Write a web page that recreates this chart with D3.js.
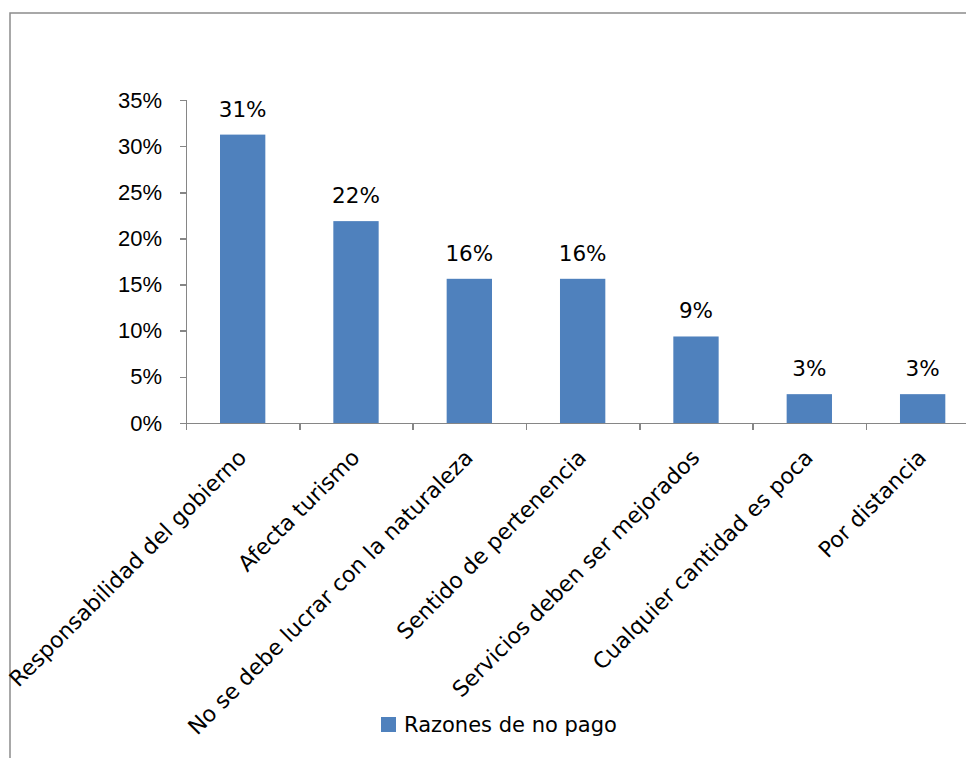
<!DOCTYPE html>
<html>
<head>
<meta charset="utf-8">
<script src="https://cdn.jsdelivr.net/npm/d3@7"></script>
<style>
	body { margin: 0; background: #fff; }
	svg { display: block; font-family: "DejaVu Sans", sans-serif; }
	.axis path, .axis line { stroke: #868686; stroke-width: 1.5px; shape-rendering: crispEdges; }
	.axis text { fill: #000; font-size: 22px; }
</style>
</head>
<body>
<div id="chart"></div>
<script>
// data
const categories = [
	"Responsabilidad del gobierno",
	"Afecta turismo",
	"No se debe lucrar con la naturaleza",
	"Sentido de pertenencia",
	"Servicios deben ser mejorados",
	"Cualquier cantidad es poca",
	"Por distancia"
];
const values = [0.3125, 0.21875, 0.15625, 0.15625, 0.09375, 0.03125, 0.03125];
const yTicks = [0, 0.05, 0.10, 0.15, 0.20, 0.25, 0.30, 0.35];
const seriesName = "Razones de no pago";

const width = 966, height = 758;
const color = "#4f81bd";
const plotLeft = 186, plotTop = 100, plotBottom = 423, step = 113.33;
const pct = d3.format(".0%");

var svg = d3.select("#chart").append("svg")
	.attr("width", width)
	.attr("height", height);

// chart area border (runs off right and bottom edge)
svg.append("rect")
	.attr("x", 10).attr("y", 13)
	.attr("width", 1000).attr("height", 1000)
	.attr("fill", "none")
	.attr("stroke", "#8c8c8c")
	.attr("stroke-width", 1.5);

var x = d3.scaleBand()
	.domain(categories)
	.range([plotLeft, plotLeft + step * categories.length])
	.paddingInner(0.6)
	.paddingOuter(0.3);

var xEdge = d3.scaleLinear()
	.domain([0, categories.length])
	.range(x.range());

var y = d3.scaleLinear()
	.domain([0, 0.35])
	.range([plotBottom, plotTop]);

// y axis
var yAxis = d3.axisLeft(y)
	.tickValues(yTicks)
	.tickFormat(pct)
	.tickSize(6)
	.tickSizeOuter(6)
	.tickPadding(18);

svg.append("g")
	.attr("class", "y axis")
	.attr("transform", "translate(" + plotLeft + ",0)")
	.call(yAxis);

// bars
svg.append("g").selectAll("rect")
	.data(values)
	.enter().append("rect")
	.attr("x", function (d, i) { return x(categories[i]); })
	.attr("y", function (d) { return y(d); })
	.attr("width", x.bandwidth())
	.attr("height", function (d) { return plotBottom - y(d); })
	.attr("fill", color);

// value labels
svg.append("g").selectAll("text")
	.data(values)
	.enter().append("text")
	.attr("x", function (d, i) { return x(categories[i]) + x.bandwidth() / 2; })
	.attr("y", function (d) { return y(d) - 18; })
	.attr("text-anchor", "middle")
	.attr("font-size", 21.5)
	.attr("fill", "#000")
	.text(function (d) { return pct(d); });

// x axis: ticks sit on the category boundaries
var xAxis = d3.axisBottom(xEdge)
	.tickValues(d3.range(categories.length + 1))
	.tickFormat("")
	.tickSize(7)
	.tickSizeOuter(0);

svg.append("g")
	.attr("class", "x axis")
	.attr("transform", "translate(0," + plotBottom + ")")
	.call(xAxis);

// rotated category labels
svg.append("g").selectAll("text")
	.data(categories)
	.enter().append("text")
	.attr("transform", function (d) {
		return "translate(" + (x(d) + x.bandwidth() / 2 + 5) + "," + (plotBottom + 36) + ")rotate(-45)";
	})
	.attr("text-anchor", "end")
	.attr("font-size", 22)
	.attr("fill", "#000")
	.text(function (d) { return d; });

// legend
var legend = svg.append("g").attr("transform", "translate(381,717)");
legend.append("rect")
	.attr("width", 15).attr("height", 15)
	.attr("fill", color);
legend.append("text")
	.attr("x", 23).attr("y", 15)
	.attr("font-size", 21)
	.attr("fill", "#000")
	.text(seriesName);
</script>
</body>
</html>
